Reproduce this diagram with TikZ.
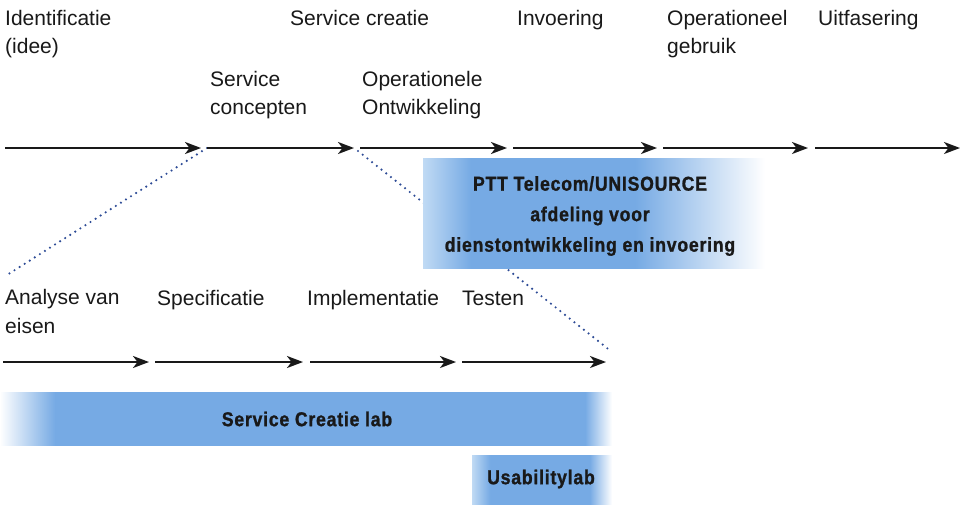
\documentclass[tikz,border=0pt]{standalone}
\usepackage{fontspec}
\setmainfont{Liberation Sans}
\newfontfamily\labfont[FakeStretch=0.88,FakeBold=1.2,LetterSpace=4]{Liberation Sans}
\usetikzlibrary{arrows.meta}

\definecolor{labblue}{RGB}{118,170,228}
\definecolor{labpale}{RGB}{192,218,244}
\definecolor{dotblue}{RGB}{45,75,150}
\definecolor{ink}{RGB}{25,25,25}

% horizontal fades; the path's bounding box spans 25bp..75bp of each shading
\pgfdeclarehorizontalshading{deptfade}{100bp}{color(0bp)=(labpale); color(25bp)=(labpale);
  color(32bp)=(labblue); color(56bp)=(labblue); color(75bp)=(white); color(100bp)=(white)}
\pgfdeclarehorizontalshading{scfade}{100bp}{color(0bp)=(white); color(25bp)=(white);
  color(29.5bp)=(labblue); color(72.8bp)=(labblue); color(75bp)=(white); color(100bp)=(white)}
\pgfdeclarehorizontalshading{ufade}{100bp}{color(0bp)=(labpale); color(25bp)=(labpale);
  color(31.5bp)=(labblue); color(67bp)=(labblue); color(75bp)=(white); color(100bp)=(white)}

\tikzset{
  phase/.style={anchor=base west, inner sep=0pt, align=left,
    font=\fontsize{21}{28.5}\selectfont, text=ink},
  flow/.style={line width=2pt, draw=ink,
    -{Stealth[length=16pt,width=12pt,inset=4.5pt]}},
  link/.style={draw=dotblue, line width=2.4pt, line cap=round,
    dash pattern=on 0pt off 6pt},
  labtext/.style={font=\labfont\bfseries\fontsize{20}{30.5}\selectfont,
    text=ink, align=center, inner sep=0pt},
}

\begin{document}
\begin{tikzpicture}[x=1pt,y=-1pt]
\useasboundingbox[fill=white] (0,0) rectangle (966,504);

% main life-cycle arrows
\coordinate (t1s) at (5,148);   \coordinate (t1e) at (201,148);
\coordinate (t2s) at (207,148); \coordinate (t2e) at (354,148);
\coordinate (t3s) at (360,148); \coordinate (t3e) at (507,148);
\coordinate (t4s) at (513,148); \coordinate (t4e) at (657,148);
\coordinate (t5s) at (663,148); \coordinate (t5e) at (808,148);
\coordinate (t6s) at (815,148); \coordinate (t6e) at (960,148);

% service creation sub-phase arrows
\coordinate (b1s) at (3,362);   \coordinate (b1e) at (149,362);
\coordinate (b2s) at (155,362); \coordinate (b2e) at (303,362);
\coordinate (b3s) at (310,362); \coordinate (b3e) at (456,362);
\coordinate (b4s) at (462,362); \coordinate (b4e) at (606,362);

% ends of the dotted zoom lines
\coordinate (zA) at (207,148);
\coordinate (zB) at (7,275);
\coordinate (zC) at (358,151);
\coordinate (zD) at (612,352);

% dotted zoom lines (the right one passes behind the department box)
\draw[link] (zA) -- (zB);
\draw[link] (zC) -- (zD);

% shaded bands
\fill[shading=deptfade] (423,158) rectangle (765,268);
\fill[shading=scfade]   (0,392) rectangle (612,445);
\fill[shading=ufade]    (472,455) rectangle (612,504);

% arrows
\foreach \a in {1,...,6} \draw[flow] (t\a s) -- (t\a e);
\foreach \a in {1,...,4} \draw[flow] (b\a s) -- (b\a e);

% phase labels (anchored on the baseline of their last line)
\node[phase] (idee)   at (5,53.5)   {Identificatie\\(idee)};
\node[phase] (screa)  at (290,25)   {Service creatie};
\node[phase] (invo)   at (517,25)   {Invoering};
\node[phase] (opgeb)  at (667,53.5) {Operationeel\\gebruik};
\node[phase] (uitf)   at (818,25)   {Uitfasering};
\node[phase] (sconc)  at (210,114.5) {Service\\concepten};
\node[phase] (opont)  at (362,114.5) {Operationele\\Ontwikkeling};
\node[phase] (anal)   at (5,333)    {Analyse van\\eisen};
\node[phase] (spec)   at (157,305)  {Specificatie};
\node[phase] (impl)   at (307,305)  {Implementatie};
\node[phase] (test)   at (462,305)  {Testen};

% band labels
\node[labtext] (dept)  at (590,216) {PTT Telecom/UNISOURCE\\afdeling voor\\dienstontwikkeling en invoering};
\node[labtext] (sclab) at (307,419) {Service Creatie lab};
\node[labtext] (ulab)  at (541,479) {Usabilitylab};
\end{tikzpicture}
\end{document}
